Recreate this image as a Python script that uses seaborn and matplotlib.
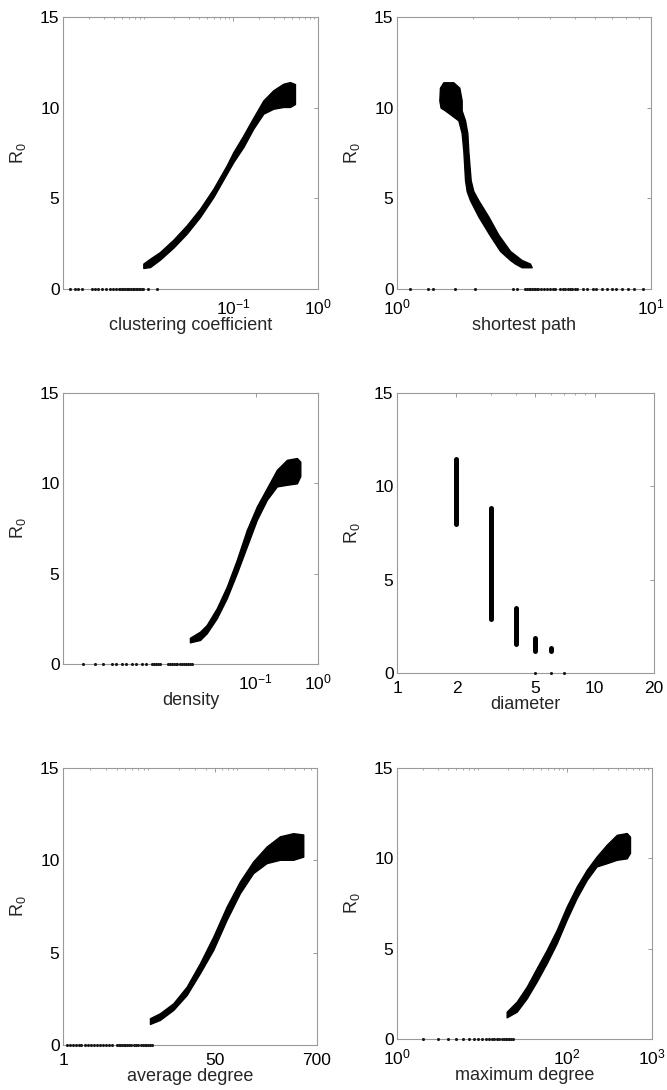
import matplotlib
matplotlib.use('Agg')
import matplotlib.pyplot as plt
import seaborn as sns
from matplotlib.ticker import NullFormatter

# ---------------- data ----------------
# clustering coefficient: band of the point cloud (x, lower R0, upper R0)
cc_x = [0.00881, 0.01057, 0.01384, 0.01986, 0.02851, 0.04093, 0.05875, 0.08433,
        0.1009, 0.1324, 0.1734, 0.2275, 0.2979, 0.3908, 0.4688, 0.5358]
cc_lo = [1.16, 1.21, 1.62, 2.28, 3.05, 3.97, 5.07, 6.36, 7.0, 7.83, 8.84, 9.67,
         9.94, 10.04, 10.04, 10.2]
cc_hi = [1.40, 1.67, 2.04, 2.72, 3.51, 4.43, 5.53, 6.82, 7.55, 8.47, 9.45, 10.4,
         10.96, 11.32, 11.41, 11.3]
cc_zero = [0.00121, 0.00138, 0.00151, 0.00167, 0.00219, 0.00240, 0.00257, 0.00288,
           0.00324, 0.00355, 0.00389, 0.00417, 0.00457, 0.00470, 0.00490, 0.00510,
           0.00537, 0.00560, 0.00575, 0.00600, 0.00631, 0.00660, 0.00692, 0.00720,
           0.00741, 0.00780, 0.00813, 0.00840, 0.00871, 0.0100, 0.0129]

# shortest path: band given per R0 level (R0, lower x, upper x)
sp_y = [1.2, 1.4, 1.6, 2.1, 3.0, 4.0, 4.9, 5.4, 6.0, 7.6, 8.6, 9.3, 9.85, 10.0,
        10.4, 11.1, 11.4]
sp_lo = [3.096, 2.915, 2.786, 2.544, 2.310, 2.090, 1.938, 1.881, 1.853, 1.825,
         1.797, 1.744, 1.545, 1.485, 1.468, 1.476, 1.522]
sp_hi = [3.390, 3.339, 3.096, 2.786, 2.506, 2.289, 2.090, 1.998, 1.950, 1.909,
         1.892, 1.853, 1.797, 1.797, 1.797, 1.760, 1.666]
sp_zero = [1.12, 1.33, 1.39, 1.69, 2.03, 2.87, 2.96, 3.2, 3.25, 3.3, 3.35, 3.4,
           3.45, 3.5, 3.55, 3.6, 3.7, 3.8, 3.9, 4.0, 4.1, 4.2, 4.4, 4.5, 4.6, 4.7,
           4.8, 4.9, 5.0, 5.1, 5.4, 5.6, 5.9, 6.1, 6.4, 6.7, 7.0, 7.3, 7.7, 8.1,
           8.6, 9.3]

# density
de_x = [0.0087, 0.01265, 0.0162, 0.0235, 0.0341, 0.0494, 0.0716, 0.1038, 0.1504,
        0.218, 0.316, 0.458, 0.519]
de_lo = [1.2, 1.33, 1.70, 2.53, 3.64, 5.02, 6.50, 7.98, 9.09, 9.83, 9.92, 10.0, 10.4]
de_hi = [1.45, 1.79, 2.16, 3.08, 4.28, 5.76, 7.42, 8.72, 9.73, 10.75, 11.3, 11.4, 11.2]
de_zero = [1.66e-4, 2.57e-4, 3.48e-4, 4.78e-4, 5.7e-4, 6.9e-4, 8.3e-4, 1.0e-3,
           1.2e-3, 1.45e-3, 1.74e-3, 2.1e-3, 2.3e-3, 2.5e-3, 2.7e-3, 2.9e-3,
           3.9e-3, 4.2e-3, 4.5e-3, 4.8e-3, 5.1e-3, 5.4e-3, 6.0e-3, 6.5e-3,
           7.0e-3, 7.5e-3, 8.0e-3, 8.6e-3, 9.3e-3]

# diameter (integer values): R0 range at each diameter
di_x = [2, 3, 4, 5, 6]
di_lo = [7.98, 2.89, 1.56, 1.20, 1.18]
di_hi = [11.44, 8.82, 3.47, 1.86, 1.36]
di_zero = [5, 6, 7]

# average degree
ad_x = [9.42, 12.2, 17.2, 24.3, 34.2, 48.2, 68.1, 95.9, 135, 191, 269, 379, 491]
ad_lo = [1.14, 1.36, 1.90, 2.71, 3.89, 5.15, 6.78, 8.22, 9.31, 9.85, 10.03, 10.03, 10.2]
ad_hi = [1.45, 1.72, 2.26, 3.16, 4.43, 5.87, 7.5, 8.86, 9.94, 10.75, 11.3, 11.47, 11.4]
ad_zero = [1.1, 1.2, 1.3, 1.4, 1.5, 1.6, 1.75, 1.9, 2.05, 2.2, 2.4, 2.6, 2.8, 3.0,
           3.3, 3.5, 4.0, 4.2, 4.4, 4.6, 4.8, 5.0, 5.2, 5.5, 5.8, 6.3, 6.6, 7.0,
           7.4, 7.8, 8.2, 8.6, 9.0, 9.5, 10.0]

# maximum degree
md_x = [19.5, 25.6, 33.6, 44.0, 57.7, 75.7, 99.1, 130, 171, 223, 293, 385, 504, 551]
md_lo = [1.2, 1.51, 2.25, 3.18, 4.19, 5.3, 6.6, 7.8, 8.81, 9.55, 9.73, 9.92, 10.0, 10.3]
md_hi = [1.51, 2.07, 2.9, 3.92, 4.93, 6.04, 7.33, 8.44, 9.37, 10.1, 10.75, 11.3, 11.4, 11.2]
md_zero = [2, 3, 4, 5, 6, 7, 8, 9, 10, 11, 12, 13, 14, 15, 16, 17, 18, 19, 20, 21,
           22, 23]

y_ticks = [0, 5, 10, 15]
x_labels = ['clustering coefficient', 'shortest path', 'density', 'diameter',
            'average degree', 'maximum degree']

# ---------------- figure ----------------
sns.set_theme(style='white')
plt.rcParams['font.family'] = ['Liberation Sans', 'DejaVu Sans']
plt.rcParams['mathtext.default'] = 'regular'

W, H = 667, 1090
fig = plt.figure(figsize=(W / 100, H / 100), dpi=100)
fig.patch.set_facecolor('white')

# axes boxes in pixels: left, right, top, bottom
boxes = [(63, 318, 17, 289), (397, 651, 17, 289),
         (63, 318, 393, 664), (397, 654, 393, 673),
         (63, 317, 768, 1045), (397, 652, 768, 1039)]
axes = []
for (l, r, t, b) in boxes:
    ax = fig.add_axes([l / W, 1 - b / H, (r - l) / W, (b - t) / H])
    axes.append(ax)

grey = '#9a9a9a'


def zero_row(ax, xs):
    sns.scatterplot(x=xs, y=[0] * len(xs), ax=ax, color='k', s=5, marker='o',
                    linewidth=0, clip_on=False, zorder=5, legend=False)


def style(ax, xlim, xticks, xticklabels, xlabel):
    ax.set_xscale('log')
    ax.set_xlim(*xlim)
    ax.set_ylim(0, 15)
    ax.set_yticks(y_ticks)
    ax.set_xticks(xticks)
    ax.set_xticklabels(xticklabels)
    ax.xaxis.set_minor_formatter(NullFormatter())
    ax.tick_params(which='both', direction='in', top=True, right=True,
                   color=grey, labelcolor='black', labelsize=12.5)
    ax.tick_params(axis='x', which='both', pad=6)
    ax.tick_params(axis='y', which='both', pad=2.5)
    ax.tick_params(which='major', length=3, width=0.7)
    ax.tick_params(which='minor', length=1.6, width=0.6)
    for s in ax.spines.values():
        s.set_color(grey)
        s.set_linewidth(0.8)
    ax.set_xlabel(xlabel, fontsize=13, labelpad=0)
    ax.set_ylabel('R$_0$', fontsize=13, labelpad=9)
    ax.set_facecolor('white')


band_kw = dict(color='black', edgecolor='black', linewidth=1.0, zorder=3,
               joinstyle='round')

ax = axes[0]
ax.fill_between(cc_x, cc_lo, cc_hi, **band_kw)
zero_row(ax, cc_zero)
style(ax, (1e-3, 1), [0.1, 1], ['$10^{-1}$', '$10^{0}$'], x_labels[0])

ax = axes[1]
ax.fill_betweenx(sp_y, sp_lo, sp_hi, **band_kw)
zero_row(ax, sp_zero)
style(ax, (1, 10), [1, 10], ['$10^{0}$', '$10^{1}$'], x_labels[1])

ax = axes[2]
ax.fill_between(de_x, de_lo, de_hi, **band_kw)
zero_row(ax, de_zero)
style(ax, (7.9e-5, 1), [0.1, 1], ['$10^{-1}$', '$10^{0}$'], x_labels[2])

ax = axes[3]
ax.vlines(di_x, di_lo, di_hi, colors='black', linewidth=3.6, zorder=3,
          capstyle='round')
zero_row(ax, di_zero)
style(ax, (1, 20), [1, 2, 5, 10, 20], ['1', '2', '5', '10', '20'], x_labels[3])

ax = axes[4]
ax.fill_between(ad_x, ad_lo, ad_hi, **band_kw)
zero_row(ax, ad_zero)
style(ax, (1, 700), [1, 50, 700], ['1', '50', '700'], x_labels[4])

ax = axes[5]
ax.fill_between(md_x, md_lo, md_hi, **band_kw)
zero_row(ax, md_zero)
style(ax, (1, 1000), [1, 100, 1000], ['$10^{0}$', '$10^{2}$', '$10^{3}$'], x_labels[5])

fig.savefig('out.png', dpi=100, facecolor='white')
